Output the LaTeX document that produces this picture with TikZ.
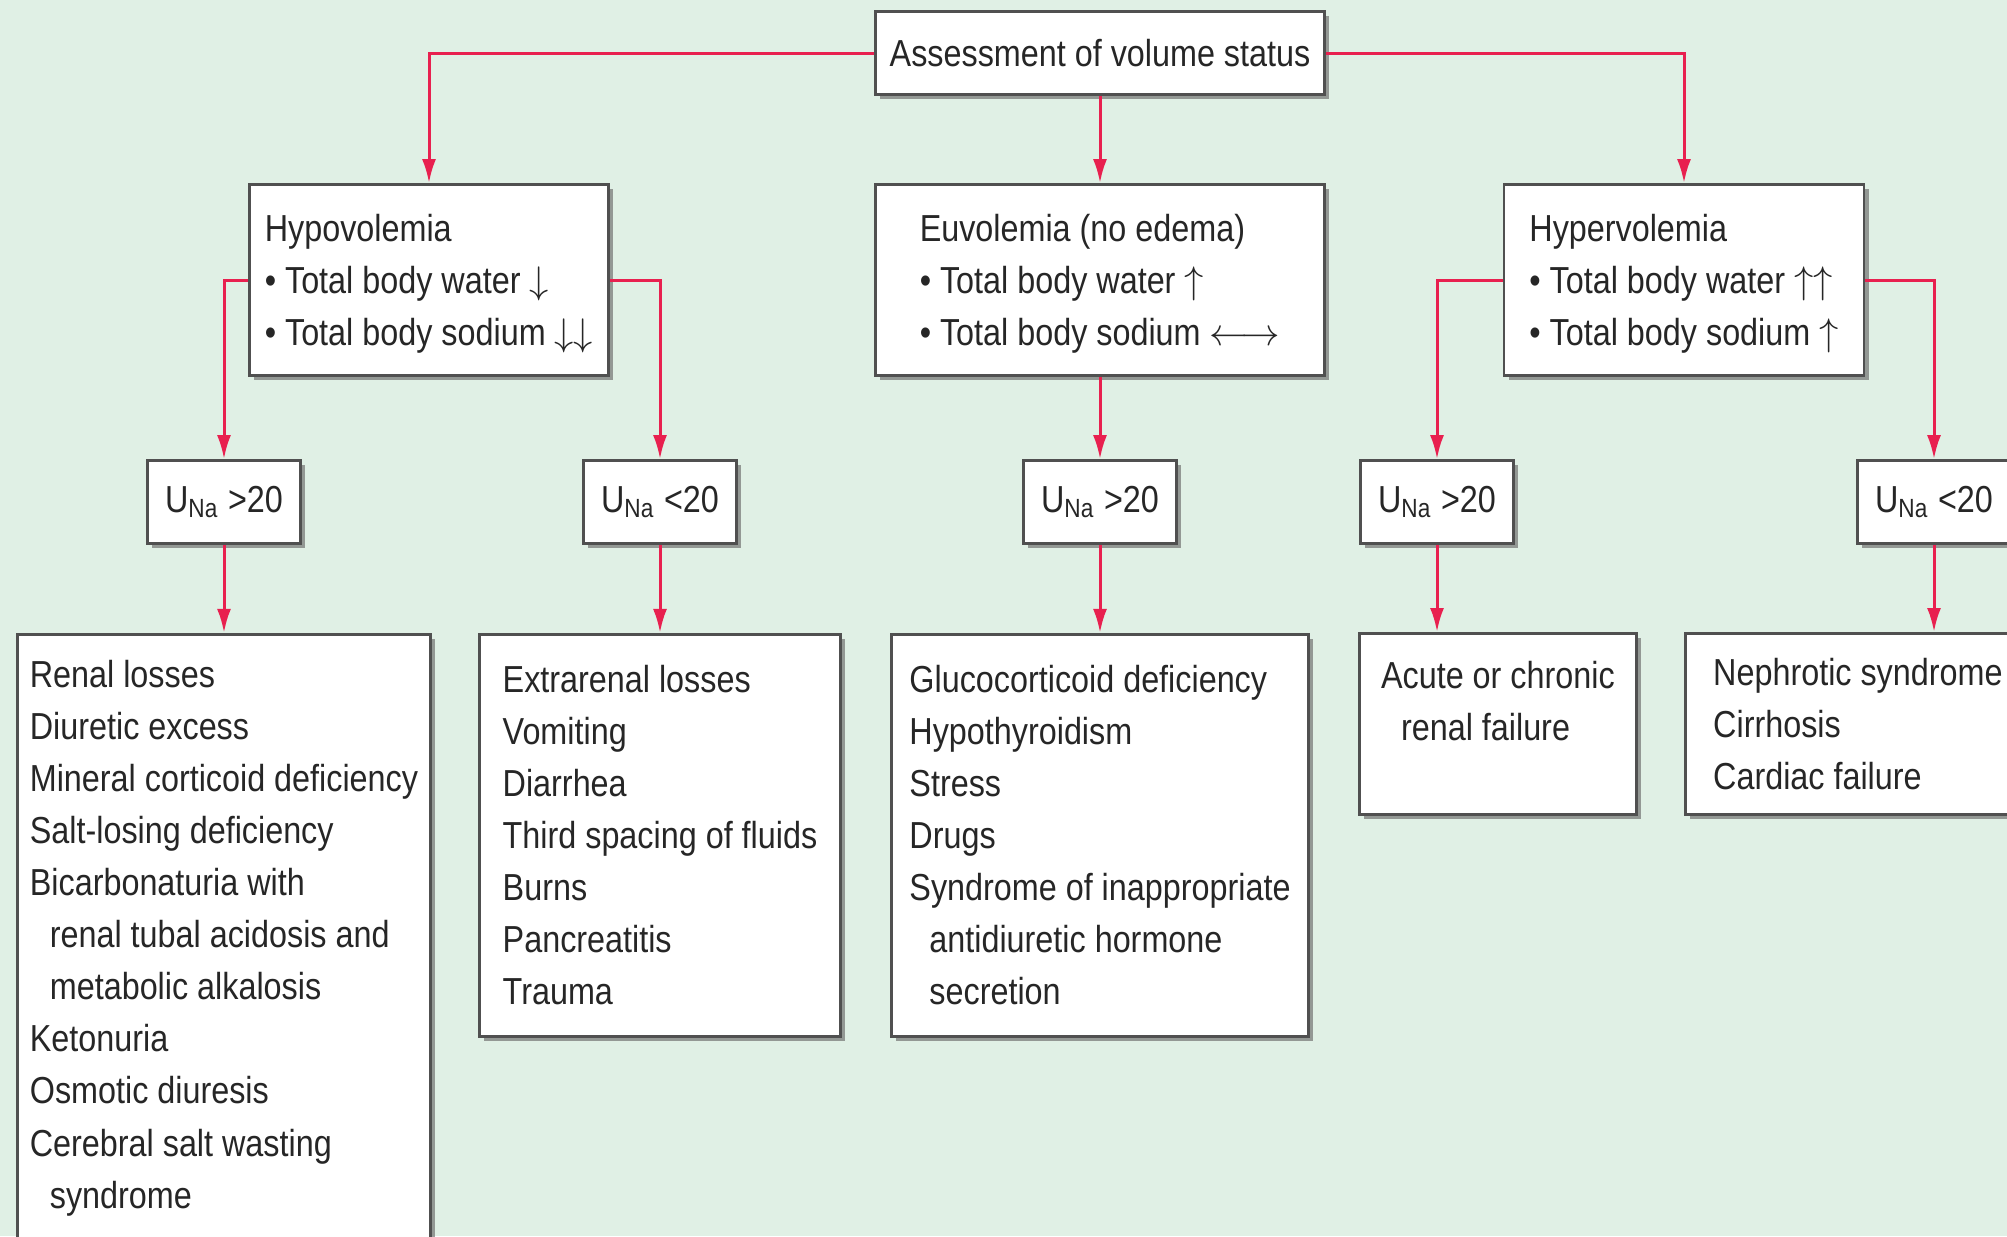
\documentclass[tikz,border=0pt]{standalone}
\usepackage{fontspec}
\setmainfont{Liberation Sans}[FakeStretch=0.86]
\usepackage{xcolor}
\usetikzlibrary{arrows.meta,positioning,shadows}
\definecolor{bgmint}{HTML}{E0F0E5}
\definecolor{linkred}{HTML}{E8204F}
\definecolor{edgegray}{HTML}{505050}

\begin{document}
\begin{tikzpicture}[
  x=0.1mm, y=-0.1mm,
  box/.style={draw=edgegray, line width=0.28mm, fill=white, align=left, text=black!85,
    font=\fontsize{10.7}{14.8}\selectfont, inner sep=0pt,
    drop shadow={shadow xshift=0.45mm, shadow yshift=-0.45mm, fill=black!55, opacity=0.7}},
  headbox/.style={box, minimum width=#1, minimum height=19.1mm, text depth=0pt},
  unabox/.style={box, minimum width=15.3mm, minimum height=8.3mm},
  listbox/.style={box, anchor=north, minimum width=#1},
  arrow/.style={-{Latex[length=2.4mm,width=1.4mm]}, linkred, line width=0.3mm}
]

\useasboundingbox (0,0) rectangle (2007,1236);
\fill[bgmint] (0,0) rectangle (2007,1236);

\node[box, minimum width=44.9mm, minimum height=8.3mm] (assess) at (1100,53) {Assessment of volume status};
\node[headbox=35.9mm] (hypo) at (429,280) {Hypovolemia\\• Total body water $\downarrow$\\• Total body sodium $\downarrow\downarrow$};
\node[headbox=44.9mm] (euvo) at (1100,280) {Euvolemia (no edema)\\• Total body water $\uparrow$\\• Total body sodium $\leftarrow\!\rightarrow$};
\node[headbox=36mm] (hyper) at (1684,280) {Hypervolemia\\• Total body water $\uparrow\uparrow$\\• Total body sodium $\uparrow$};

\node[unabox] (una1) at (224,502) {U\textsubscript{Na} >20};
\node[unabox] (una2) at (660,502) {U\textsubscript{Na} <20};
\node[unabox] (una3) at (1100,502) {U\textsubscript{Na} >20};
\node[unabox] (una4) at (1437,502) {U\textsubscript{Na} >20};
\node[unabox] (una5) at (1934,502) {U\textsubscript{Na} <20};

\node[listbox=41.3mm, minimum height=66mm, text depth=6mm, below=8.8mm of una1] (renal) {Renal losses\\Diuretic excess\\Mineral corticoid deficiency\\Salt-losing deficiency\\Bicarbonaturia with\\\hspace*{2mm}renal tubal acidosis and\\\hspace*{2mm}metabolic alkalosis\\Ketonuria\\Osmotic diuresis\\Cerebral salt wasting\\\hspace*{2mm}syndrome};
\node[listbox=36.1mm, minimum height=40.2mm, below=8.8mm of una2] (extra) {Extrarenal losses\\Vomiting\\Diarrhea\\Third spacing of fluids\\Burns\\Pancreatitis\\Trauma};
\node[listbox=41.7mm, minimum height=40.2mm, below=8.8mm of una3] (gluco) {Glucocorticoid deficiency\\Hypothyroidism\\Stress\\Drugs\\Syndrome of inappropriate\\\hspace*{2mm}antidiuretic hormone\\\hspace*{2mm}secretion};
\node[listbox=27.7mm, minimum height=18.1mm, text depth=4.6mm, anchor=north west] (failure) at (1358,632) {Acute or chronic\\\hspace*{2mm}renal failure};
\node[listbox=34.5mm, minimum height=18.1mm, anchor=north west] (nephro) at (1684,632) {Nephrotic syndrome\\Cirrhosis\\Cardiac failure};

% Arrows
\draw[arrow] (assess.west) -| (hypo.north);
\draw[arrow] (assess) -- (euvo);
\draw[arrow] (assess.east) -| (hyper.north);
\draw[arrow] (hypo.west) -| (una1.north);
\draw[arrow] (hypo.east) -| (una2.north);
\draw[arrow] (euvo) -- (una3);
\draw[arrow] (hyper.west) -| (una4.north);
\draw[arrow] (hyper.east) -| (una5.north);
\draw[arrow] (una1) -- (renal);
\draw[arrow] (una2) -- (extra);
\draw[arrow] (una3) -- (gluco);
\draw[arrow] (una4) -- (una4 |- failure.north);
\draw[arrow] (una5) -- (una5 |- nephro.north);

\end{tikzpicture}
\end{document}
